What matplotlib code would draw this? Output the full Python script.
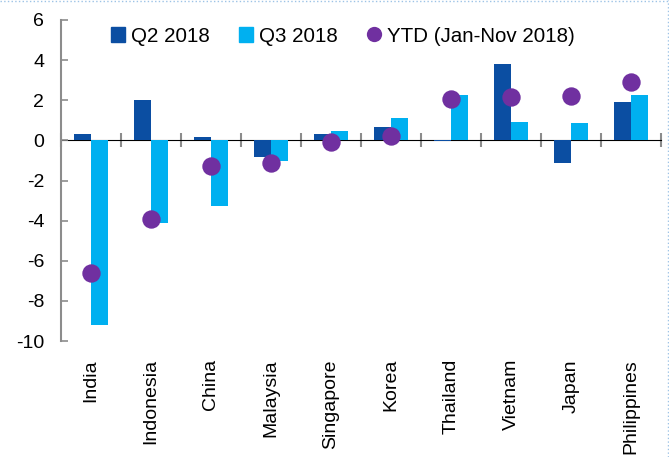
import matplotlib
matplotlib.use("Agg")
import matplotlib.pyplot as plt
from matplotlib.lines import Line2D
from matplotlib.patches import Patch
import numpy as np

plt.rcParams['font.family'] = ['Liberation Sans', 'DejaVu Sans']

countries = ["India", "Indonesia", "China", "Malaysia", "Singapore", "Korea",
             "Thailand", "Vietnam", "Japan", "Philippines"]
q2_2018 = [0.3, 2.0, 0.15, -0.85, 0.3, 0.65, -0.05, 3.8, -1.15, 1.9]
q3_2018 = [-9.2, -4.1, -3.25, -1.05, 0.45, 1.1, 2.25, 0.9, 0.85, 2.25]
ytd_2018 = [-6.6, -3.9, -1.3, -1.15, -0.1, 0.2, 2.05, 2.15, 2.2, 2.9]
y_ticks = [-10, -8, -6, -4, -2, 0, 2, 4, 6]
legend_labels = ["Q2 2018", "Q3 2018", "YTD (Jan-Nov 2018)"]

c_q2 = "#0B4EA2"
c_q3 = "#00B0F0"
c_ytd = "#7030A0"
gray = "#8C8C8C"

fig = plt.figure(figsize=(6.69, 4.57), dpi=100)
ax = fig.add_axes([61/669, 1 - 341/457, 600/669, 321/457])

x = np.arange(len(countries))
w = 0.29
ax.bar(x - w/2, q2_2018, width=w, color=c_q2, zorder=2)
ax.bar(x + w/2, q3_2018, width=w, color=c_q3, zorder=2)
ax.scatter(x, ytd_2018, s=175, color=c_ytd, zorder=3, linewidths=0)

ax.set_xlim(-0.5, len(countries) - 0.5)
ax.set_ylim(-10, 6)
ax.set_yticks(y_ticks)
ax.set_yticklabels([str(v) for v in y_ticks])
ax.tick_params(axis='y', direction='in', length=5, width=1.2, color=gray,
               labelsize=14, pad=12)

ax.set_xticks(x)
ax.set_xticklabels(countries, rotation=90, fontsize=14)
ax.tick_params(axis='x', length=0, pad=13)

for s in ['top', 'right', 'bottom']:
    ax.spines[s].set_visible(False)
ax.spines['left'].set_color(gray)
ax.spines['left'].set_linewidth(1.5)

# zero line axis with category boundary ticks
sec = ax.secondary_xaxis(10/16)
sec.spines['bottom'].set_color(gray)
sec.spines['bottom'].set_linewidth(2)
sec.set_xticks(np.arange(-0.5, len(countries) + 0.5, 1.0))
sec.set_xticklabels([])
sec.tick_params(axis='x', direction='inout', length=10, width=1.5, color=gray)

handles = [Patch(color=c_q2), Patch(color=c_q3),
           Line2D([], [], marker='o', linestyle='none', markersize=11,
                  color=c_ytd, markeredgewidth=0)]
ax.legend(handles, legend_labels, loc='center', bbox_to_anchor=(0.47, 0.95),
          ncol=3, frameon=False, fontsize=14.8, handlelength=0.7,
          handleheight=0.7, handletextpad=0.3, columnspacing=1.4)

# dotted frame border
fig.add_artist(Line2D([0, 1], [0.998, 0.998], transform=fig.transFigure,
                      color="#9DC3E6", linestyle=':', linewidth=1))
fig.add_artist(Line2D([0.998, 0.998], [0, 1], transform=fig.transFigure,
                      color="#9DC3E6", linestyle=':', linewidth=1))

fig.savefig("out.png", dpi=100)
